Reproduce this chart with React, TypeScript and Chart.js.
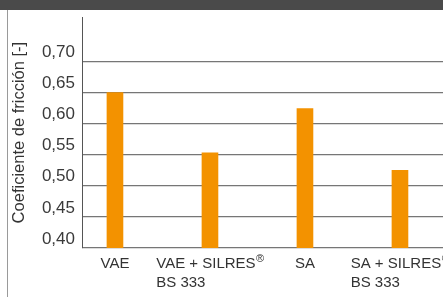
import React, { useEffect, useRef } from "react";
import { Chart, registerables } from "chart.js";

Chart.register(...registerables);

// ---- data ----
const categoryLines: string[][] = [
  ["VAE"],
  ["VAE + SILRES®", "BS 333"],
  ["SA"],
  ["SA + SILRES®", "BS 333"],
];
const frictionValues = [0.65, 0.553, 0.624, 0.525];
const yTickValues = [0.4, 0.45, 0.5, 0.55, 0.6, 0.65, 0.7];
const yTitle = "Coeficiente de fricción [-]";

const FONT = '"Liberation Sans", Arial, Helvetica, sans-serif';
const LABEL_FONT = `15px ${FONT}`;
const SUP_FONT = `11px ${FONT}`;

// split a line into normal and superscript (®) pieces
function pieces(line: string) {
  const out: { t: string; sup: boolean }[] = [];
  for (const ch of line) {
    const sup = ch === "®";
    const last = out[out.length - 1];
    if (last && last.sup === sup) last.t += ch;
    else out.push({ t: ch, sup });
  }
  return out;
}

const labelPlugin = {
  id: "catLabels",
  afterDraw(chart: any) {
    const { ctx, chartArea, scales } = chart;
    const xs = scales.x;
    ctx.save();
    ctx.fillStyle = "#333333";
    ctx.textBaseline = "alphabetic";
    ctx.textAlign = "left";
    const measure = (line: string) =>
      pieces(line).reduce((acc, p) => {
        ctx.font = p.sup ? SUP_FONT : LABEL_FONT;
        return acc + ctx.measureText(p.t).width;
      }, 0);
    categoryLines.forEach((lines, i) => {
      const px = xs.getPixelForValue(i);
      const w = measure(lines[0]);
      const left = px - w / 2;
      lines.forEach((line, j) => {
        let x = left;
        const y = chartArea.bottom + 20 + j * 19;
        pieces(line).forEach((p) => {
          ctx.font = p.sup ? SUP_FONT : LABEL_FONT;
          ctx.fillText(p.t, x + (p.sup ? 0.5 : 0), p.sup ? y - 6 : y);
          x += ctx.measureText(p.t).width;
        });
      });
    });
    ctx.restore();
  },
};

export default function App() {
  const ref = useRef<HTMLCanvasElement>(null);

  useEffect(() => {
    document.body.style.margin = "0";
    const chart = new Chart(ref.current as HTMLCanvasElement, {
      type: "bar",
      data: {
        datasets: [
          {
            data: frictionValues.map((v, i) => ({ x: i, y: v })) as any,
            backgroundColor: "#F39200",
            barThickness: 16,
          },
        ],
      },
      options: {
        animation: false,
        responsive: false,
        maintainAspectRatio: false,
        layout: { padding: { left: 8, top: 12, right: 0, bottom: 49 } },
        plugins: { legend: { display: false }, tooltip: { enabled: false } },
        scales: {
          x: { type: "linear", display: false, offset: false, min: -0.347, max: 3.453, grid: { offset: false } },
          y: {
            min: 0.4,
            max: 0.771,
            z: 1,
            afterBuildTicks: (s: any) => {
              s.ticks = yTickValues.map((v) => ({ value: v }));
            },
            afterFit: (s: any) => {
              s.width = 74;
            },
            ticks: {
              padding: 7,
              labelOffset: -9,
              color: "#3a3a3a",
              font: { family: FONT, size: 17 },
              callback: (v: any) => Number(v).toFixed(2).replace(".", ","),
            },
            grid: { color: "rgba(60,60,60,0.7)", lineWidth: 1.3, drawTicks: false },
            border: { color: "#555555", width: 1 },
            title: {
              display: true,
              text: yTitle,
              color: "#333333",
              font: { family: FONT, size: 16.5 },
              padding: { top: 2, bottom: 0 },
            },
          },
        },
      } as any,
      plugins: [labelPlugin],
    });
    return () => chart.destroy();
  }, []);

  return (
    <div style={{ position: "relative", width: 443, height: 297, background: "#fff", overflow: "hidden" }}>
      <canvas ref={ref} width={443} height={297} style={{ display: "block", position: "absolute", left: 0, top: 0 }} />
      <div style={{ position: "absolute", left: 0, top: 0, width: 443, height: 10, background: "#4a4a4a" }} />
      <div style={{ position: "absolute", left: 7, top: 10, width: 1, height: 287, background: "#9a9a9a" }} />
    </div>
  );
}
